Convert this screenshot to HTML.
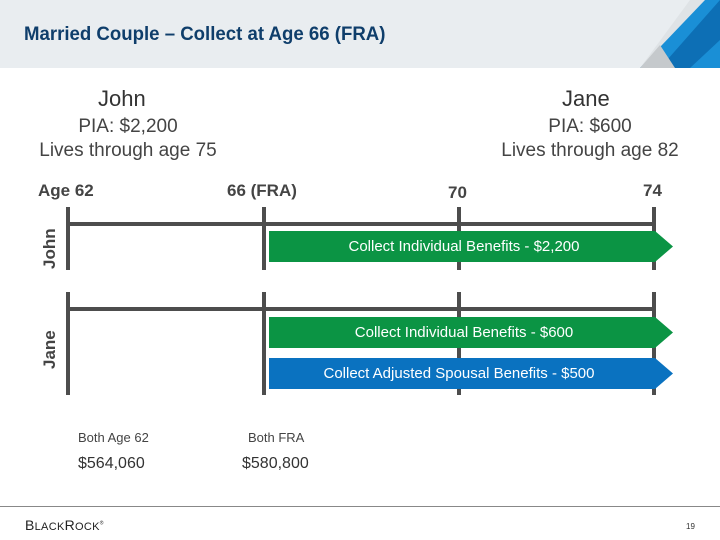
<!DOCTYPE html>
<html><head><meta charset="utf-8"><style>
body{margin:0;width:720px;height:540px;overflow:hidden;background:#fff;font-family:"Liberation Sans",sans-serif;position:relative}
.a{position:absolute;white-space:nowrap}
</style></head><body>
<div class="a" style="left:0;top:0;width:720px;height:68px;background:#e9edf0"></div>
<svg class="a" style="left:0;top:0" width="720" height="70">
<polygon points="690,0 720,0 720,10 670,68 640,68" fill="#dfe3e6"/>
<polygon points="705,0 720,0 720,68 640,68" fill="#1a8fd6"/>
<polygon points="720,0 720,40 690,68 660,68" fill="#0d6fb5"/>
<polygon points="640,68 660,45 675,68" fill="#c5c9cc"/>
</svg>
<div class="a" style="left:24px;top:24px;font-size:19px;font-weight:bold;color:#0f3e6b;transform:scaleX(0.98);transform-origin:left">Married Couple – Collect at Age 66 (FRA)</div>

<div class="a" style="left:98px;top:86px;font-size:22px;color:#333">John</div>
<div class="a" style="left:0;width:256px;top:115px;font-size:19px;color:#444;text-align:center;line-height:24px">PIA: $2,200<br>Lives through age 75</div>
<div class="a" style="left:562px;top:86px;font-size:22px;color:#333">Jane</div>
<div class="a" style="left:480px;width:220px;top:115px;font-size:19px;color:#444;text-align:center;line-height:24px">PIA: $600<br>Lives through age 82</div>

<div class="a" style="left:38px;top:181px;font-size:17px;font-weight:bold;color:#444">Age 62</div>
<div class="a" style="left:227px;top:181px;font-size:17px;font-weight:bold;color:#444">66 (FRA)</div>
<div class="a" style="left:448px;top:183px;font-size:17px;font-weight:bold;color:#444">70</div>
<div class="a" style="left:643px;top:181px;font-size:17px;font-weight:bold;color:#444">74</div>

<div class="a" style="left:40px;top:269px;font-size:17px;font-weight:bold;color:#444;transform:rotate(-90deg);transform-origin:0 0">John</div>
<div class="a" style="left:40px;top:369px;font-size:17px;font-weight:bold;color:#444;transform:rotate(-90deg);transform-origin:0 0">Jane</div>

<svg class="a" style="left:0;top:0" width="720" height="540">
<g stroke="#4d4d4d" stroke-width="4">
<line x1="68" y1="224" x2="656" y2="224"/>
<line x1="68" y1="207" x2="68" y2="270"/><line x1="264" y1="207" x2="264" y2="270"/><line x1="459" y1="207" x2="459" y2="270"/><line x1="654" y1="207" x2="654" y2="270"/>
<line x1="68" y1="309" x2="656" y2="309"/>
<line x1="68" y1="292" x2="68" y2="395"/><line x1="264" y1="292" x2="264" y2="395"/><line x1="459" y1="292" x2="459" y2="395"/><line x1="654" y1="292" x2="654" y2="395"/>
</g>
<polygon points="269,231 655,231 673,246.5 655,262 269,262" fill="#0b9444"/>
<polygon points="269,317 655,317 673,332.5 655,348 269,348" fill="#0b9444"/>
<polygon points="269,358 655,358 673,373.5 655,389 269,389" fill="#0a72c0"/>
</svg>
<div class="a" style="left:269px;width:390px;top:238px;font-size:15px;color:#fff;text-align:center">Collect Individual Benefits - $2,200</div>
<div class="a" style="left:269px;width:390px;top:324px;font-size:15px;color:#fff;text-align:center">Collect Individual Benefits - $600</div>
<div class="a" style="left:264px;width:390px;top:365px;font-size:15px;color:#fff;text-align:center">Collect Adjusted Spousal Benefits - $500</div>

<div class="a" style="left:78px;top:430px;font-size:13px;color:#444">Both Age 62</div>
<div class="a" style="left:78px;top:455px;font-size:16px;color:#333">$564,060</div>
<div class="a" style="left:248px;top:430px;font-size:13px;color:#444">Both FRA</div>
<div class="a" style="left:242px;top:455px;font-size:16px;color:#333">$580,800</div>

<div class="a" style="left:0;top:506px;width:720px;height:1px;background:#888"></div>
<div class="a" style="left:25px;top:517px;font-size:14px;color:#222;letter-spacing:0.3px">B<span style="font-size:11px">LACK</span>R<span style="font-size:11px">OCK</span><sup style="font-size:5px">®</sup></div>
<div class="a" style="left:686px;top:522px;font-size:8px;color:#333">19</div>
</body></html>
